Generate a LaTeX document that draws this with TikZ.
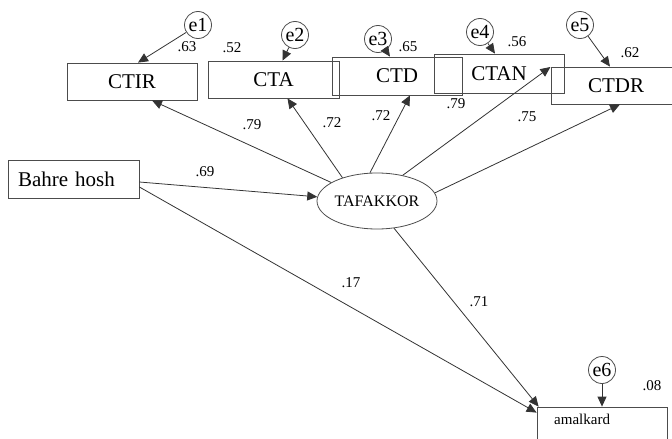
\documentclass[tikz,border=0pt]{standalone}
\usepackage{fontspec}
\setmainfont{Liberation Serif}
\usetikzlibrary{arrows.meta,shapes.geometric,calc}
\begin{document}
\begin{tikzpicture}[x=1pt,y=-1pt,
  box/.style={draw=black!70, line width=0.8pt, inner sep=0pt, minimum width=130pt, minimum height=37pt, font=\fontsize{21}{24}\selectfont},
  err/.style={draw=black!70, line width=0.8pt, circle, inner sep=0pt, minimum size=27pt, font=\fontsize{20}{22}\selectfont},
  lat/.style={draw=black!70, line width=0.8pt, ellipse, inner sep=0pt, minimum width=120pt, minimum height=56pt, font=\fontsize{16}{18}\selectfont},
  arrowline/.style={draw=black!80, line width=0.8pt, -{Triangle[length=10pt,width=9pt]}},
  coef/.style={font=\fontsize{15}{17}\selectfont, inner sep=0pt}
]
\useasboundingbox (0,0) rectangle (672,439);
% observed boxes
\node[box] (ctir) at (132,81.5) {CTIR};
\node[box, minimum width=131pt] (cta) at (273.5,79.5) {CTA};
\node[box, minimum height=38pt] (ctd) at (397,76) {CTD};
\node[box, minimum height=39pt] (ctan) at (499,73.5) {CTAN};
\node[box] (ctdr) at (616,85.5) {CTDR};
\node[box, minimum width=131pt, minimum height=38pt, text width=111pt, align=left, inner xsep=10pt] (bahre) at (73.5,179) {Bahre hosh};
\node[box, minimum height=40pt] (amal) at (602,427) {};
\node[coef, anchor=west] (amaltext) at (554,419) {amalkard};
% latent
\node[lat] (taf) at (377,201) {TAFAKKOR};
% errors
\node[err] (e1) at (198,25) {e1};
\node[err] (e2) at (295,35) {e2};
\node[err] (e3) at (378,39) {e3};
\node[err] (e4) at (480,32) {e4};
\node[err] (e5) at (580,25) {e5};
\node[err] (e6) at (602,370) {e6};
% paths
\draw[arrowline] (taf.158) -- ($(ctir.south)+(20,0)$);
\draw[arrowline] (taf.146) -- ($(cta.south)+(14,0)$);
\draw[arrowline] (taf.104) -- ($(ctd.south)+(13,0)$);
\draw[arrowline] (taf.45) -- ($(ctan.east)+(-14,-6.5)$);
\draw[arrowline] (taf.8) -- ($(ctdr.south)+(4,0)$);
\draw[arrowline] ($(bahre.east)+(0,3)$) -- (taf.176);
\draw[arrowline] ($(bahre.east)+(0,8)$) -- ($(amal.north west)+(0,6)$);
\draw[arrowline] (taf.302) -- ($(amal.north west)+(2,0)$);
\draw[arrowline] (e1) -- ($(ctir.north)+(6,0)$);
\draw[arrowline] (e2) -- ($(cta.north)+(9,0)$);
\draw[arrowline] (e3) -- ($(ctd.north)+(-7,0)$);
\draw[arrowline] (e4) -- ($(ctan.north)+(-4,0)$);
\draw[arrowline] (e5) -- ($(ctdr.north)+(-6,0)$);
\draw[arrowline] (e6) -- (amal.north);
% coefficients
\node[coef] (r1) at (187,47) {.63};
\node[coef] (r2) at (232,48) {.52};
\node[coef] (r3) at (408,47) {.65};
\node[coef] (r4) at (517,42) {.56};
\node[coef] (r5) at (630,53) {.62};
\node[coef] (r6) at (652,386) {.08};
\node[coef] (l1) at (252,125) {.79};
\node[coef] (l2) at (332,123) {.72};
\node[coef] (l3) at (381,116) {.72};
\node[coef] (l4) at (456,104) {.79};
\node[coef] (l5) at (527,117) {.75};
\node[coef] (g1) at (205,172) {.69};
\node[coef] (g2) at (351,283) {.17};
\node[coef] (g3) at (479,302) {.71};
\end{tikzpicture}
\end{document}
